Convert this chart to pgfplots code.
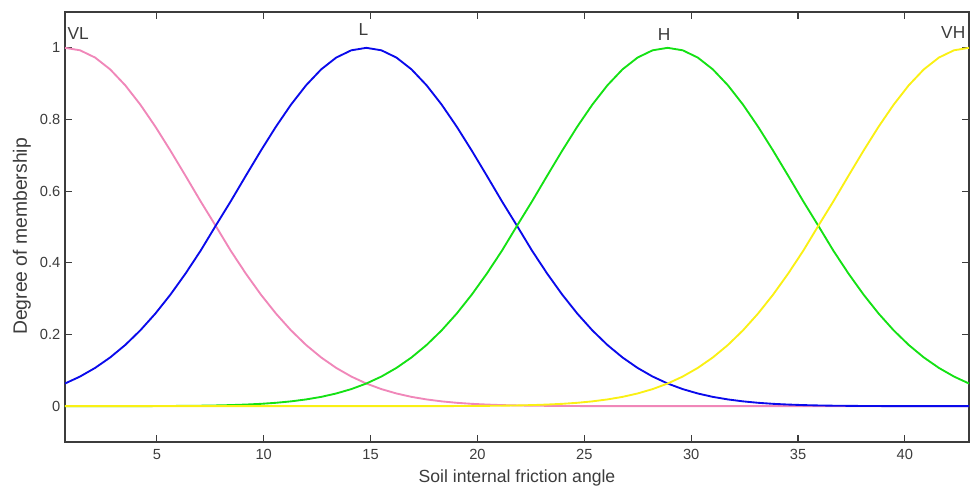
\documentclass[border=0pt]{standalone}
\usepackage{pgfplots}
\pgfplotsset{compat=1.18}
\usepackage{pgfplotstable}
\usepackage{fontspec}
\setmainfont{Liberation Sans}
\usetikzlibrary{calc}

\definecolor{mfpink}{RGB}{240,135,185}
\definecolor{mfblue}{RGB}{10,10,235}
\definecolor{mfgreen}{RGB}{20,225,20}
\definecolor{mfyellow}{RGB}{250,240,20}
\definecolor{axgray}{RGB}{60,60,60}

% membership values: x, VL, L, H, VH
\pgfplotstableread{
x vl l h vh
0.7 1.0000 0.0632 0 0
1.405 0.9931 0.0827 0 0
2.11 0.9728 0.1068 0 0
2.815 0.9398 0.1360 0 0
3.52 0.8954 0.1708 0 0
4.225 0.8415 0.2116 0.0002 0
4.93 0.7800 0.2585 0.0003 0
5.635 0.7130 0.3114 0.0005 0
6.34 0.6429 0.3701 0.0009 0
7.045 0.5717 0.4338 0.0013 0
7.75 0.5034 0.5034 0.0020 0
8.455 0.4338 0.5717 0.0030 0
9.16 0.3701 0.6429 0.0045 0
9.865 0.3114 0.7130 0.0065 0
10.57 0.2585 0.7800 0.0094 0
11.275 0.2116 0.8415 0.0134 0
11.98 0.1708 0.8954 0.0188 0
12.685 0.1360 0.9398 0.0259 0
13.39 0.1068 0.9728 0.0354 0
14.095 0.0827 0.9931 0.0476 0
14.8 0.0632 1.0000 0.0632 0
15.505 0.0476 0.9931 0.0827 0
16.21 0.0354 0.9728 0.1068 0
16.915 0.0259 0.9398 0.1360 0
17.62 0.0188 0.8954 0.1708 0
18.325 0.0134 0.8415 0.2116 0.0002
19.03 0.0094 0.7800 0.2585 0.0003
19.735 0.0065 0.7130 0.3114 0.0005
20.44 0.0045 0.6429 0.3701 0.0009
21.145 0.0030 0.5717 0.4338 0.0013
21.85 0.0020 0.5034 0.5034 0.0020
22.555 0.0013 0.4338 0.5717 0.0030
23.26 0.0009 0.3701 0.6429 0.0045
23.965 0.0005 0.3114 0.7130 0.0065
24.67 0.0003 0.2585 0.7800 0.0094
25.375 0.0002 0.2116 0.8415 0.0134
26.08 0 0.1708 0.8954 0.0188
26.785 0 0.1360 0.9398 0.0259
27.49 0 0.1068 0.9728 0.0354
28.195 0 0.0827 0.9931 0.0476
28.9 0 0.0632 1.0000 0.0632
29.605 0 0.0476 0.9931 0.0827
30.31 0 0.0354 0.9728 0.1068
31.015 0 0.0259 0.9398 0.1360
31.72 0 0.0188 0.8954 0.1708
32.425 0 0.0134 0.8415 0.2116
33.13 0 0.0094 0.7800 0.2585
33.835 0 0.0065 0.7130 0.3114
34.54 0 0.0045 0.6429 0.3701
35.245 0 0.0030 0.5717 0.4338
35.95 0 0.0020 0.5034 0.5034
36.655 0 0.0013 0.4338 0.5717
37.36 0 0.0009 0.3701 0.6429
38.065 0 0.0005 0.3114 0.7130
38.77 0 0.0003 0.2585 0.7800
39.475 0 0.0002 0.2116 0.8415
40.18 0 0 0.1708 0.8954
40.885 0 0 0.1360 0.9398
41.59 0 0 0.1068 0.9728
42.295 0 0 0.0827 0.9931
43.0 0 0 0.0632 1.0000
}\mfdata

\begin{document}
\begin{tikzpicture}
\begin{axis}[
    name=ax,
    scale only axis,
    width=678pt, height=322.5pt,
    xmin=0.7, xmax=43,
    ymin=-0.1, ymax=1.1,
    xtick={5,10,...,40},
    ytick={0,0.2,...,1},
    tick align=inside,
    tick pos=both,
    major tick length=5pt,
    axis line style={axgray, line width=0.9pt},
    every tick/.style={axgray, line width=0.9pt},
    tick label style={font=\fontsize{11}{13}\selectfont, text=axgray},
    xticklabel style={yshift=-2pt},
    /pgf/number format/assume math mode=true,
    xlabel={Soil internal friction angle},
    ylabel={Degree of membership},
    xlabel style={font=\fontsize{13.2}{15}\selectfont, text=axgray,
        at={(axis description cs:0.5,-0.0837)}, anchor=center},
    ylabel style={font=\fontsize{14.5}{16}\selectfont, text=axgray,
        at={(axis description cs:-0.0476,0.478)}, anchor=center},
    clip=false,
    every axis plot/.append style={line width=1.4pt, no markers},
]
\addplot[mfpink] table[x=x, y=vl] {\mfdata};
\addplot[mfblue] table[x=x, y=l] {\mfdata};
\addplot[mfgreen] table[x=x, y=h] {\mfdata};
\addplot[mfyellow] table[x=x, y=vh] {\mfdata};
\node[anchor=west, font=\fontsize{13}{15}\selectfont, text=axgray, inner sep=1pt] at (axis cs:0.75,1.04) {VL};
\node[font=\fontsize{13}{15}\selectfont, text=axgray, inner sep=1pt] at (axis cs:14.67,1.05) {L};
\node[font=\fontsize{13}{15}\selectfont, text=axgray, inner sep=1pt] at (axis cs:28.73,1.036) {H};
\node[anchor=east, font=\fontsize{13}{15}\selectfont, text=axgray, inner sep=1pt] at (axis cs:42.9,1.043) {VH};
\end{axis}
\pgfresetboundingbox
\path ($(ax.south west)+(-48.75pt,-36pt)$) rectangle ($(ax.north east)+(3pt,9pt)$);
\end{tikzpicture}
\end{document}
